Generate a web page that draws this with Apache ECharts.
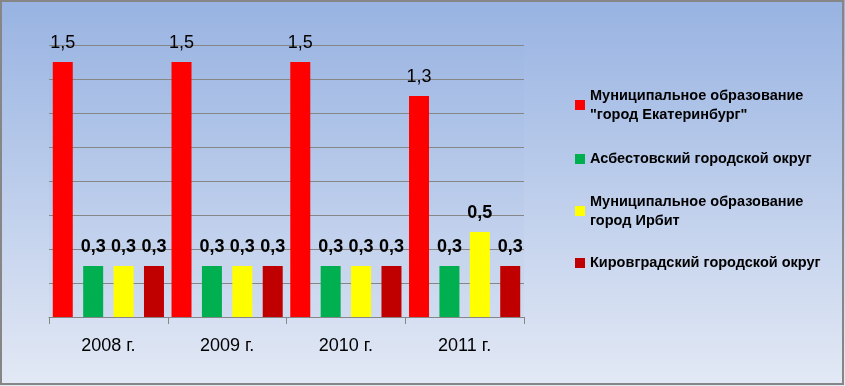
<!DOCTYPE html>
<html>
<head>
<meta charset="utf-8">
<script src="https://cdn.jsdelivr.net/npm/echarts@6/dist/echarts.min.js"></script>
<style>
html,body{margin:0;padding:0;background:#fff;}
#c{width:845px;height:386px;}
</style>
</head>
<body>
<div id="c"></div>
<script>
const categories = ['2008 г.', '2009 г.', '2010 г.', '2011 г.'];
const seriesNames = [
  'Муниципальное образование\n"город Екатеринбург"',
  'Асбестовский городской округ',
  'Муниципальное образование\nгород Ирбит',
  'Кировградский городской округ'
];
const ekaterinburg = [1.5, 1.5, 1.5, 1.3];
const asbest = [0.3, 0.3, 0.3, 0.3];
const irbit = [0.3, 0.3, 0.3, 0.5];
const kirovgrad = [0.3, 0.3, 0.3, 0.3];
const colors = ['#FF0000', '#00B050', '#FFFF00', '#C00000'];
const labelWeights = ['normal', 'bold', 'bold', 'bold'];
const values = [ekaterinburg, asbest, irbit, kirovgrad];
const legendTops = [76.5, 149.5, 182.5, 253.5];
const FONT = 'Liberation Sans';

const chart = echarts.init(document.getElementById('c'), null, {renderer: 'canvas'});

const legends = seriesNames.map((n, i) => {
  const multi = n.indexOf('\n') >= 0;
  return {
    show: true,
    left: 575,
    top: legendTops[i],
    orient: 'vertical',
    padding: 0,
    itemWidth: 10,
    itemHeight: 10,
    icon: 'rect',
    selectedMode: false,
    data: [n],
    textStyle: {
      fontFamily: FONT,
      fontSize: 14.5,
      fontWeight: 'bold',
      color: '#000',
      lineHeight: 19,
      padding: multi ? [19, 0, 0, 0] : 0
    }
  };
});

chart.setOption({
  backgroundColor: {
    type: 'linear', x: 0, y: 0, x2: 0, y2: 1,
    colorStops: [{offset: 0, color: '#98B3E2'}, {offset: 1, color: '#E3E9F5'}]
  },
  animation: false,
  legend: legends,
  grid: {
    left: 49, top: 45, width: 475, height: 272,
    show: true, borderWidth: 0, backgroundColor: 'rgba(140,165,215,0.06)'
  },
  xAxis: {
    type: 'category',
    data: categories,
    axisLine: {show: true, lineStyle: {color: '#868686', width: 1}},
    axisTick: {show: true, length: 7, lineStyle: {color: '#868686'}},
    axisLabel: {fontFamily: FONT, fontSize: 18, color: '#000', margin: 20}
  },
  yAxis: {
    type: 'value',
    min: 0, max: 1.6, interval: 0.2,
    axisLine: {show: false},
    axisTick: {show: false},
    axisLabel: {show: false},
    splitLine: {show: true, lineStyle: {color: '#868686', width: 1}}
  },
  graphic: [{
    type: 'rect',
    shape: {x: 1, y: 1, width: 842, height: 383},
    style: {fill: 'none', stroke: '#868686', lineWidth: 2},
    z: 100
  }],
  series: seriesNames.map((n, i) => ({
    name: n,
    type: 'bar',
    data: values[i],
    barWidth: 20,
    barGap: '52%',
    itemStyle: {color: colors[i]},
    label: {
      show: true,
      position: 'top',
      distance: 10,
      fontFamily: FONT,
      fontSize: 18,
      fontWeight: labelWeights[i],
      color: '#000',
      formatter: p => String(p.value).replace('.', ',')
    }
  }))
});
</script>
</body>
</html>
